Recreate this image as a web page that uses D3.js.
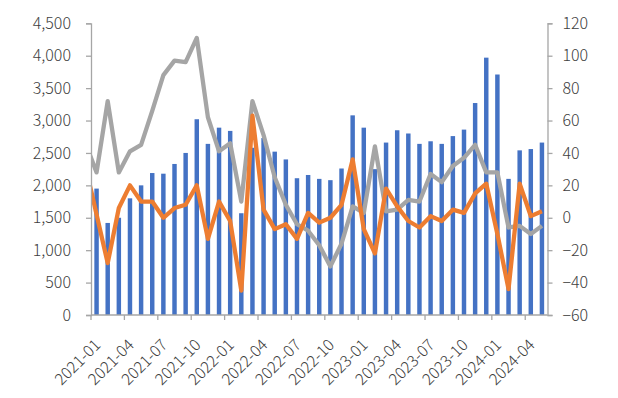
<!DOCTYPE html>
<html>
<head>
<meta charset="utf-8">
<script src="https://cdn.jsdelivr.net/npm/d3@7"></script>
<style>
  body { margin: 0; background: #fff; }
  text { font-family: "Noto Sans CJK SC", "Liberation Sans", sans-serif; fill: #404040; font-weight: 300; }
</style>
</head>
<body>
<svg id="chart" width="618" height="398"></svg>
<script>
// months shown on the category axis
const months = [
  "2021-01","2021-02","2021-03","2021-04","2021-05","2021-06","2021-07","2021-08","2021-09","2021-10","2021-11","2021-12",
  "2022-01","2022-02","2022-03","2022-04","2022-05","2022-06","2022-07","2022-08","2022-09","2022-10","2022-11","2022-12",
  "2023-01","2023-02","2023-03","2023-04","2023-05","2023-06","2023-07","2023-08","2023-09","2023-10","2023-11","2023-12",
  "2024-01","2024-02","2024-03","2024-04","2024-05"
];

// bars, left axis
const barValues = [
  1950, 1420, 1500, 1800, 2000, 2190, 2180, 2330, 2500, 3020, 2640, 2890,
  2840, 1570, 2580, 2730, 2520, 2400, 2110, 2160, 2100, 2080, 2260, 3080,
  2890, 2250, 2660, 2850, 2800, 2640, 2680, 2640, 2760, 2860, 3270, 3970,
  3710, 2100, 2540, 2560, 2660
];

// lines, right axis (first value is 2020-12, cut off by the plot edge)
const orangeValues = [
  32,
  2, -28, 6, 20, 10, 10, 0, 6, 8, 20, -13, 10,
  -2, -45, 63, 5, -7, -4, -13, 3, -3, 0, 8, 36,
  -7, -22, 18, 7, -2, -6, 1, -2, 5, 3, 15, 21,
  -10, -44, 21, 1, 4
];
const grayValues = [
  46,
  28, 72, 28, 41, 45, 66, 88, 97, 96, 111, 62, 41,
  46, 10, 72, 51, 25, 8, -4, -8, -17, -30, -16, 7,
  3, 44, 4, 5, 11, 10, 27, 22, 32, 37, 45, 28,
  28, -6, -5, -10, -5
];

const leftTicks = d3.range(0, 4501, 500);
const rightTicks = d3.range(-60, 121, 20);

const svg = d3.select("#chart");
const margin = { left: 91, right: 547.5, top: 23.3, bottom: 315 };

const x = d3.scaleBand()
    .domain(months)
    .range([margin.left, margin.right])
    .paddingInner(0.6)
    .paddingOuter(0.3);
const step = x.step();
const cx = i => x(months[0]) + x.bandwidth() / 2 + (i - 1) * step; // i=0 is 2020-12

const yL = d3.scaleLinear().domain([0, 4500]).range([margin.bottom, margin.top]);
const yR = d3.scaleLinear().domain([-60, 120]).range([margin.bottom, margin.top]);

const axisColor = "#a6a6a6";

// bars
svg.append("g")
    .selectAll("rect")
    .data(barValues)
    .enter()
    .append("rect")
    .attr("x", (d, i) => x(months[i]))
    .attr("y", d => yL(d))
    .attr("width", x.bandwidth())
    .attr("height", d => yL(0) - yL(d))
    .attr("fill", "#4472c4");

// clip lines to plot area
svg.append("clipPath").attr("id", "plot")
    .append("rect")
    .attr("x", margin.left).attr("y", 0)
    .attr("width", margin.right - margin.left).attr("height", 398);

const line = d3.line()
    .x((d, i) => cx(i))
    .y(d => yR(d));

svg.append("path")
    .datum(grayValues)
    .attr("d", line)
    .attr("fill", "none")
    .attr("stroke", "#a5a5a5")
    .attr("stroke-width", 4.3)
    .attr("stroke-linejoin", "round")
    .attr("clip-path", "url(#plot)");

svg.append("path")
    .datum(orangeValues)
    .attr("d", line)
    .attr("fill", "none")
    .attr("stroke", "#ed7d31")
    .attr("stroke-width", 4.3)
    .attr("stroke-linejoin", "round")
    .attr("clip-path", "url(#plot)");

// left axis
const gL = svg.append("g")
    .attr("transform", `translate(${margin.left},0)`)
    .call(d3.axisLeft(yL).tickValues(leftTicks).tickFormat(d3.format(",")).tickSize(5).tickPadding(15));

// right axis
const gR = svg.append("g")
    .attr("transform", `translate(${margin.right},0)`)
    .call(d3.axisRight(yR).tickValues(rightTicks).tickSize(5).tickPadding(10));

[gL, gR].forEach(g => {
  g.select(".domain").attr("stroke", axisColor).attr("stroke-width", 1.3);
  g.selectAll(".tick line").attr("stroke", axisColor).attr("stroke-width", 1.3);
  g.selectAll(".tick text").style("font-size", "16px").attr("fill", "#404040")
    .style("font-family", '"Noto Sans CJK SC", sans-serif');
});

// bottom axis: line, ticks every 3 months, rotated labels
const gB = svg.append("g");
gB.append("line")
    .attr("x1", margin.left).attr("x2", margin.right)
    .attr("y1", margin.bottom).attr("y2", margin.bottom)
    .attr("stroke", axisColor).attr("stroke-width", 1.3);

const labelIdx = months.map((m, i) => i).filter(i => i % 3 === 0);

gB.selectAll(".xtick")
    .data(labelIdx)
    .enter()
    .append("line")
    .attr("x1", i => x(months[i]) - x.paddingOuter() * step)
    .attr("x2", i => x(months[i]) - x.paddingOuter() * step)
    .attr("y1", margin.bottom)
    .attr("y2", margin.bottom + 5)
    .attr("stroke", axisColor).attr("stroke-width", 1.3);

gB.selectAll(".xlabel")
    .data(labelIdx)
    .enter()
    .append("text")
    .attr("text-anchor", "end")
    .attr("transform", i => `translate(${cx(i + 1) + 5},${margin.bottom + 31}) rotate(-45)`)
    .style("font-size", "16px")
    .text(i => months[i]);
</script>
</body>
</html>
